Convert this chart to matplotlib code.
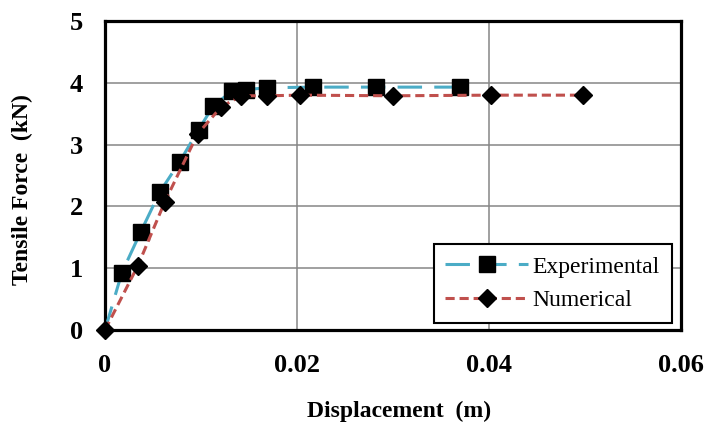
import matplotlib
matplotlib.use("Agg")
import matplotlib.pyplot as plt

# values
exp_disp = [0.0, 0.00176, 0.00373, 0.0057, 0.00777, 0.00974, 0.0113, 0.01326,
            0.0147, 0.0169, 0.0217, 0.0282, 0.0370]
exp_force = [0.0, 0.93, 1.59, 2.23, 2.72, 3.24, 3.63, 3.87,
             3.89, 3.92, 3.93, 3.93, 3.93]
num_disp = [0.0, 0.00342, 0.00622, 0.00964, 0.0121, 0.0142, 0.0169, 0.0203,
            0.0300, 0.0402, 0.0498]
num_force = [0.0, 1.04, 2.07, 3.17, 3.61, 3.79, 3.79, 3.80,
             3.79, 3.80, 3.80]
x_ticks = [0, 0.02, 0.04, 0.06]
x_tick_labels = ["0", "0.02", "0.04", "0.06"]
y_ticks = [0, 1, 2, 3, 4, 5]

plt.rcParams["font.family"] = ["Liberation Serif", "DejaVu Serif"]

fig = plt.figure(figsize=(7.09, 4.22), dpi=100)
ax = fig.add_axes([105 / 709, 1 - 330 / 422, 576 / 709, 309 / 422])

# the square at the origin is hidden behind the diamond in the source
ax.plot(exp_disp, exp_force, color="#4BACC6", linewidth=2.2, dashes=(8, 4),
        marker="s", markersize=11, markerfacecolor="black",
        markeredgecolor="black", markevery=list(range(1, len(exp_disp))),
        label="Experimental", zorder=3, clip_on=False)
ax.plot(num_disp, num_force, color="#C0504D", linewidth=2.2, dashes=(3, 1.6),
        marker="D", markersize=9.5, markerfacecolor="black",
        markeredgecolor="black", label="Numerical", zorder=4, clip_on=False)

ax.set_xlim(0, 0.06)
ax.set_ylim(0, 5)
ax.set_xticks(x_ticks)
ax.set_xticklabels(x_tick_labels)
ax.set_yticks(y_ticks)
ax.grid(True, color="#868686", linewidth=1.1)
ax.set_axisbelow(True)
for s in ax.spines.values():
    s.set_linewidth(2.3)
    s.set_color("black")
ax.tick_params(length=0, labelsize=19)
ax.tick_params(axis="x", pad=17)
ax.tick_params(axis="y", pad=16)
for lbl in ax.get_xticklabels() + ax.get_yticklabels():
    lbl.set_fontweight("bold")

ax.set_xlabel("Displacement  (m)", fontsize=17, fontweight="bold")
ax.set_ylabel("Tensile Force  (kN)", fontsize=17, fontweight="bold")
ax.xaxis.set_label_coords(0.51, -0.228)
ax.yaxis.set_label_coords(-0.125, 0.456)

leg = ax.legend(loc="lower right", bbox_to_anchor=(0.984, 0.023),
                borderaxespad=0, fontsize=17, fancybox=False,
                edgecolor="black", framealpha=1, handlelength=3.5,
                handletextpad=0.2, numpoints=1, borderpad=0.5,
                labelspacing=0.5)
leg._legend_box.sep = 0
leg.get_frame().set_linewidth(1.5)

fig.savefig("out.png", dpi=100)
